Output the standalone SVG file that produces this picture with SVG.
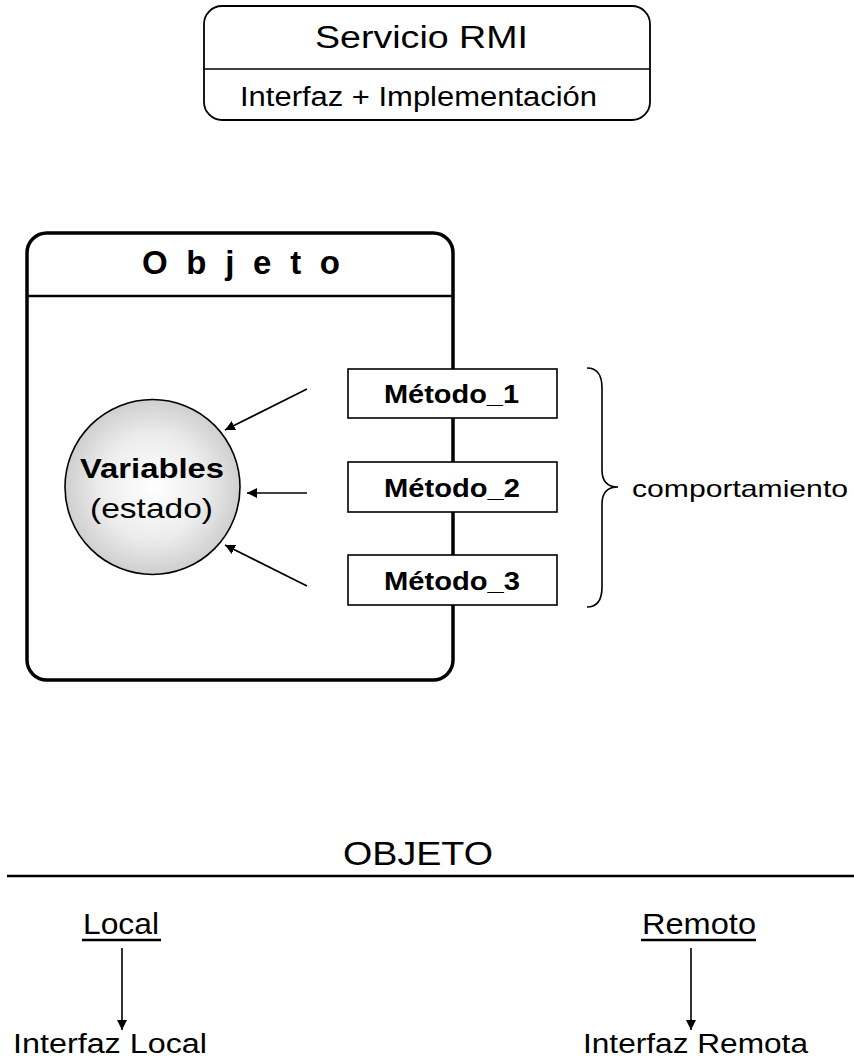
<svg xmlns="http://www.w3.org/2000/svg" width="854" height="1059" viewBox="0 0 854 1059">
<style>
  text { font-family: "Liberation Sans", Arial, sans-serif; fill: #000; }
  .b { font-weight: bold; }
  .box { fill: #fff; stroke: #000; stroke-width: 1.6; }
  .ln { stroke: #000; stroke-width: 1.6; fill: none; }
</style>
<defs>
  <radialGradient id="g" cx="0.5" cy="0.5" r="0.5">
    <stop offset="0" stop-color="#ffffff"/>
    <stop offset="0.6" stop-color="#ececec"/>
    <stop offset="1" stop-color="#cfcfcf"/>
  </radialGradient>
  <marker id="ah" viewBox="0 0 10 10" refX="10" refY="5" markerWidth="10" markerHeight="10" markerUnits="userSpaceOnUse" orient="auto">
    <path d="M0,0 L10,5 L0,10 z" fill="#000"/>
  </marker>
  <marker id="ah2" viewBox="0 0 10 10" refX="10" refY="5" markerWidth="12" markerHeight="10" markerUnits="userSpaceOnUse" orient="auto">
    <path d="M0,0 L10,5 L0,10 z" fill="#000"/>
  </marker>
</defs>

<g id="servicio">
  <rect x="204" y="6" width="446" height="114" rx="18" fill="#fff" stroke="#000" stroke-width="1.8"/>
  <line x1="204" y1="69" x2="650" y2="69" stroke="#000" stroke-width="1.6"/>
  <text x="315" y="48" font-size="31" textLength="213" lengthAdjust="spacingAndGlyphs">Servicio RMI</text>
  <text x="240" y="106" font-size="27" textLength="357" lengthAdjust="spacingAndGlyphs">Interfaz + Implementación</text>
</g>

<g id="objeto">
  <rect x="27" y="233" width="426" height="447" rx="20" fill="#fff" stroke="#000" stroke-width="3.5"/>
  <line x1="27" y1="296" x2="453" y2="296" stroke="#000" stroke-width="2.5"/>
  <text class="b" x="142" y="274" font-size="33" textLength="198" lengthAdjust="spacing">Objeto</text>
</g>

<g id="variables">
  <circle cx="152.5" cy="487" r="87.5" fill="url(#g)" stroke="#000" stroke-width="1.6"/>
  <text class="b" x="80" y="478" font-size="28" textLength="144" lengthAdjust="spacingAndGlyphs">Variables</text>
  <text x="90" y="518" font-size="28" textLength="123" lengthAdjust="spacingAndGlyphs">(estado)</text>
</g>

<g id="metodo1">
  <rect class="box" x="348" y="369" width="209" height="49"/>
  <text class="b" x="384" y="403" font-size="25" textLength="135" lengthAdjust="spacingAndGlyphs">Método_1</text>
</g>
<g id="metodo2">
  <rect class="box" x="348" y="462" width="209" height="50"/>
  <text class="b" x="384" y="497" font-size="25" textLength="136" lengthAdjust="spacingAndGlyphs">Método_2</text>
</g>
<g id="metodo3">
  <rect class="box" x="348" y="555" width="209" height="50"/>
  <text class="b" x="384" y="590" font-size="25" textLength="136" lengthAdjust="spacingAndGlyphs">Método_3</text>
</g>

<g id="comportamiento">
  <path class="ln" stroke-width="2" d="M587,368 Q602,368 602,388 L602,470 Q602,487 618,487 Q602,487 602,504 L602,587 Q602,607 587,607"/>
  <text x="632" y="497" font-size="24" textLength="216" lengthAdjust="spacingAndGlyphs">comportamiento</text>
</g>

<g id="objeto-clasif">
  <text x="343" y="865" font-size="34" textLength="150" lengthAdjust="spacingAndGlyphs">OBJETO</text>
  <line x1="7" y1="876" x2="854" y2="876" stroke="#000" stroke-width="2.6"/>
</g>
<g id="local">
  <text x="83" y="934" font-size="30" textLength="76" lengthAdjust="spacingAndGlyphs">Local</text>
  <line x1="82" y1="940" x2="161" y2="940" stroke="#000" stroke-width="2.6"/>
</g>
<g id="remoto">
  <text x="642" y="934" font-size="30" textLength="114" lengthAdjust="spacingAndGlyphs">Remoto</text>
  <line x1="641" y1="940" x2="756" y2="940" stroke="#000" stroke-width="2.6"/>
</g>
<g id="interfaz-local">
  <text x="13" y="1053" font-size="27" textLength="194" lengthAdjust="spacingAndGlyphs">Interfaz Local</text>
</g>
<g id="interfaz-remota">
  <text x="583" y="1053" font-size="27" textLength="225" lengthAdjust="spacingAndGlyphs">Interfaz Remota</text>
</g>

<g id="connectors">
  <line class="ln" x1="307" y1="389" x2="225" y2="430" marker-end="url(#ah)"/>
  <line class="ln" x1="307" y1="493" x2="247" y2="493" marker-end="url(#ah)"/>
  <line class="ln" x1="307" y1="586" x2="225" y2="545" marker-end="url(#ah)"/>
  <line class="ln" x1="122" y1="948" x2="122" y2="1030" marker-end="url(#ah2)"/>
  <line class="ln" x1="691" y1="948" x2="691" y2="1030" marker-end="url(#ah2)"/>
</g>
</svg>
